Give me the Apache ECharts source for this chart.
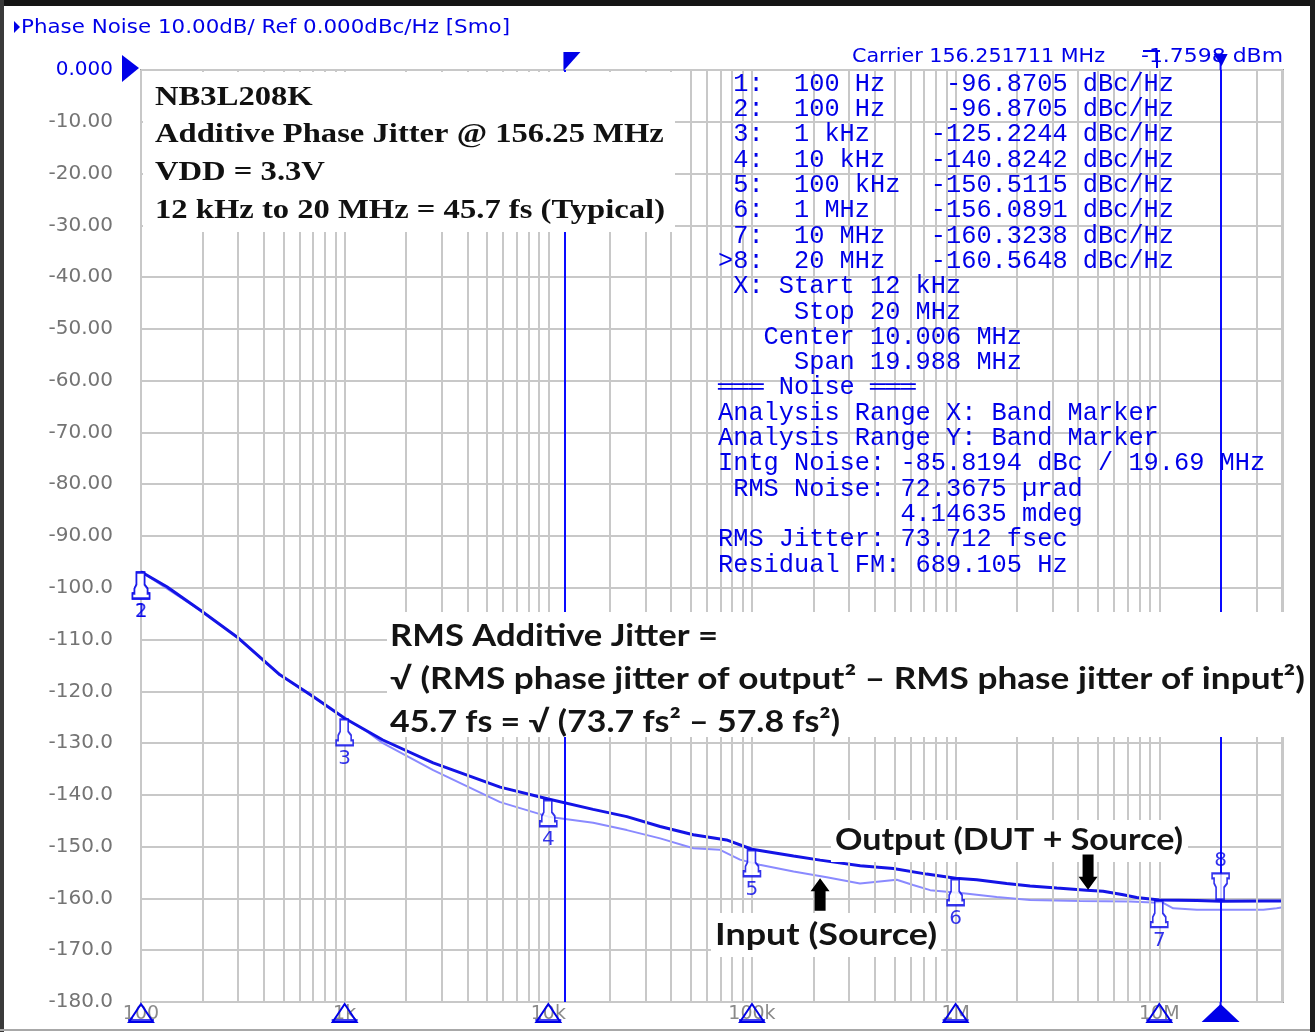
<!DOCTYPE html>
<html><head><meta charset="utf-8">
<script src="https://cdn.jsdelivr.net/npm/echarts@6/dist/echarts.min.js"></script>
<style>html,body{margin:0;padding:0;background:#fff}#c{width:1315px;height:1032px}</style>
</head><body><div id="c"></div>
<script>
// ---------------- data ----------------
const outputFreq = [100, 134, 195, 296, 481, 700, 1000, 1540, 2720, 5800, 10000, 16600, 24300, 35400, 51500, 75000, 100000, 160000, 216000, 340000, 494000, 721000, 1000000, 1270000, 1780000, 2320000, 3140000, 4400000, 5300000, 6650000, 7740000, 10000000, 15300000, 20000000, 32400000, 40500000];
const outputDb = [-96.9, -99.8, -104.3, -109.5, -116.8, -121.0, -125.2, -129.4, -133.8, -138.5, -140.8, -142.8, -144.2, -146.1, -147.7, -148.7, -150.5, -151.8, -152.6, -153.7, -154.2, -155.3, -156.1, -156.4, -157.1, -157.6, -158.0, -158.4, -158.6, -159.3, -159.8, -160.3, -160.4, -160.56, -160.5, -160.5];
const inputFreq = [100, 195, 296, 481, 1000, 1300, 1540, 2720, 5800, 10000, 16600, 24300, 35400, 51500, 69700, 87300, 109000, 160000, 233000, 339000, 514000, 618000, 750000, 1090000, 1590000, 2320000, 4080000, 7180000, 10500000, 11700000, 15300000, 32400000, 37700000, 40500000];
const inputDb = [-96.9, -104.3, -109.5, -116.8, -125.2, -127.9, -130.0, -135.2, -141.4, -144.2, -145.4, -146.8, -148.4, -150.3, -150.6, -152.5, -153.5, -154.8, -155.9, -157.1, -156.4, -157.4, -158.4, -159.0, -159.7, -160.3, -160.5, -160.6, -160.9, -161.9, -162.2, -162.2, -161.9, -161.7];
const markerIds = ['1', '2', '3', '4', '5', '6', '7', '8'];
const markerFreq = [100, 100, 1e3, 1e4, 1e5, 1e6, 1e7, 2e7];
const markerDb = [-96.8705, -96.8705, -125.2244, -140.8242, -150.5115, -156.0891, -160.3238, -160.5648];
const decadeFreq = [100, 1e3, 1e4, 1e5, 1e6, 1e7];
const decadeLabels = ['100', '1k', '10k', '100k', '1M', '10M'];
const bandStart = 12000;
const bandStop = 2e7;
const xMin = 100, xMax = 4.05e7;
const yMin = -180, yMax = 0, yStep = 10;
const headerText = 'Phase Noise 10.00dB/ Ref 0.000dBc/Hz [Smo]';
const carrierText = 'Carrier 156.251711 MHz';
const powerText = '-1.7598 dBm';
const tableLines = [
  ' 1:  100 Hz    -96.8705 dBc/Hz',
  ' 2:  100 Hz    -96.8705 dBc/Hz',
  ' 3:  1 kHz    -125.2244 dBc/Hz',
  ' 4:  10 kHz   -140.8242 dBc/Hz',
  ' 5:  100 kHz  -150.5115 dBc/Hz',
  ' 6:  1 MHz    -156.0891 dBc/Hz',
  ' 7:  10 MHz   -160.3238 dBc/Hz',
  '>8:  20 MHz   -160.5648 dBc/Hz',
  ' X: Start 12 kHz',
  '     Stop 20 MHz',
  '   Center 10.006 MHz',
  '     Span 19.988 MHz',
  '═══ Noise ═══',
  'Analysis Range X: Band Marker',
  'Analysis Range Y: Band Marker',
  'Intg Noise: -85.8194 dBc / 19.69 MHz',
  ' RMS Noise: 72.3675 µrad',
  '            4.14635 mdeg',
  'RMS Jitter: 73.712 fsec',
  'Residual FM: 689.105 Hz'
];
const titleLines = ['NB3L208K', 'Additive Phase Jitter @ 156.25 MHz', 'VDD = 3.3V', '12 kHz to 20 MHz = 45.7 fs (Typical)'];
const formulaLines = ['RMS Additive Jitter =', '√ (RMS phase jitter of output² – RMS phase jitter of input²)', '45.7 fs = √ (73.7 fs² – 57.8 fs²)'];
const outputLabel = 'Output (DUT + Source)';
const inputLabel = 'Input (Source)';
// arrows anchored in data coordinates: [freq, fromDb, toDb]
const inputArrow = [2.16e5, -162.4, -156.1];
const outputArrow = [4.47e6, -151.5, -158.3];

// ---------------- helpers ----------------
const zip = (a, b) => a.map((v, i) => [v, b[i]]);
const minorGrid = [];
for (let d = 2; d <= 7; d++) for (let m = 2; m <= 9; m++) { const f = m * Math.pow(10, d); if (f < xMax) minorGrid.push(f); }
const mctx = document.createElement('canvas').getContext('2d');
function tw(t, font) { mctx.font = font; return mctx.measureText(t).width; }

const BLUE = '#0000e8';
const GRIDC = '#c8c8c8';
const upPin = 'path://M4,0L12,0L12,12L15,16L15,21L17,21L17,26L0,26L0,21L2,21L2,16L4,12Z';
const downPin = 'path://M4,26L12,26L12,14L15,10L15,5L17,5L17,0L0,0L0,5L2,5L2,10L4,14Z';

const chart = echarts.init(document.getElementById('c'), null, {renderer: 'canvas'});
const option = {
  animation: false,
  backgroundColor: '#ffffff',
  grid: {left: 141, top: 70, width: 1142, height: 932, show: true, borderColor: '#9a9a9a', borderWidth: 2, backgroundColor: 'transparent'},
  xAxis: {
    type: 'log', logBase: 10, min: xMin, max: xMax,
    axisLine: {show: false}, axisTick: {show: false},
    axisLabel: {
      color: '#8a8a8a', fontSize: 19, fontFamily: 'DejaVu Sans', margin: 3, showMaxLabel: false,
      formatter: v => { const i = decadeFreq.findIndex(f => Math.abs(f - v) / f < 1e-6); return i >= 0 ? decadeLabels[i] : ''; }
    },
    splitLine: {show: true, lineStyle: {color: GRIDC, width: 2}}
  },
  yAxis: {
    type: 'value', min: yMin, max: yMax, interval: yStep,
    axisLine: {show: false}, axisTick: {show: false},
    axisLabel: {
      margin: 28, fontSize: 20, fontFamily: 'DejaVu Sans',
      color: v => (Number(v) === 0 ? BLUE : '#747474'),
      formatter: v => (v === 0 ? '0.000' : (v > -100 ? v.toFixed(2) : v.toFixed(1)))
    },
    splitLine: {lineStyle: {color: GRIDC, width: 2}}
  },
  series: [
    {type: 'line', name: 'minor grid', data: [], silent: true, z: 1,
      markLine: {silent: true, symbol: 'none', animation: false, label: {show: false},
        lineStyle: {color: GRIDC, width: 2, type: 'solid'}, emphasis: {disabled: true},
        data: minorGrid.map(f => ({xAxis: f}))}},
    {type: 'line', name: 'Input', data: zip(inputFreq, inputDb), showSymbol: false, z: 3,
      lineStyle: {color: '#8a8aff', width: 2}},
    {type: 'line', name: 'Output', data: zip(outputFreq, outputDb), showSymbol: false, z: 4,
      lineStyle: {color: '#1414e6', width: 3}},
    {type: 'line', name: 'band', data: [], z: 5,
      markLine: {silent: true, symbol: 'none', animation: false, label: {show: false},
        lineStyle: {color: '#0a0aff', width: 2, type: 'solid'}, emphasis: {disabled: true},
        data: [{xAxis: bandStart}, {xAxis: bandStop}]}},
    {type: 'scatter', name: 'markers', clip: false, z: 6,
      symbol: upPin, symbolSize: [17, 26], symbolOffset: [0, 14],
      itemStyle: {color: '#ffffff', borderColor: BLUE, borderWidth: 2},
      label: {show: true, position: 'bottom', distance: 2, color: BLUE, fontSize: 20, fontFamily: 'DejaVu Sans',
        formatter: p => markerIds[p.dataIndex]},
      data: zip(markerFreq, markerDb).slice(0, 7)},
    {type: 'scatter', name: 'marker8', clip: false, z: 6,
      symbol: downPin, symbolSize: [17, 26], symbolOffset: [0, -15],
      itemStyle: {color: '#ffffff', borderColor: BLUE, borderWidth: 2},
      label: {show: true, position: 'top', distance: 1, color: BLUE, fontSize: 20, fontFamily: 'DejaVu Sans',
        formatter: () => markerIds[7]},
      data: zip(markerFreq, markerDb).slice(7)}
  ]
};
chart.setOption(option);

// ---------------- decorations / annotations ----------------
const P = (f, db) => chart.convertToPixel({gridIndex: 0}, [f, db]);
const g = [];
function text(t, x, y, font, fill, o = {}) {
  const el = {type: 'text', x, y, z: o.z || 30, silent: true,
    style: {text: t, font, fill, textAlign: o.align || 'left', align: o.align || 'left', textVerticalAlign: 'middle', verticalAlign: 'middle'}};
  if (o.scaleX) el.scaleX = o.scaleX;
  return el;
}
function rect(x, y, w, h, fill, z) { return {type: 'rect', silent: true, z: z || 25, shape: {x, y, width: w, height: h}, style: {fill}}; }
function poly(pts, fill, stroke, lw, z) { return {type: 'polygon', silent: true, z: z || 28, shape: {points: pts}, style: {fill: fill || 'none', stroke: stroke || null, lineWidth: lw || 0}}; }
function line(x1, y1, x2, y2, stroke, lw, z) { return {type: 'line', silent: true, z: z || 28, shape: {x1, y1, x2, y2}, style: {stroke, lineWidth: lw}}; }

// window frame
g.push(rect(0, 0, 1315, 6, '#151515', 40));
g.push(rect(0, 0, 4, 1032, '#3a3a3a', 40));
g.push(rect(1310, 0, 5, 1032, '#1e1e1e', 40));
g.push(rect(0, 1029, 1310, 2, '#a8a8a8', 40));

// header
const hFont = '20px "DejaVu Sans"';
g.push(poly([[14, 21], [20, 27], [14, 33]], BLUE));
g.push(text(headerText, 21, 28, hFont, BLUE, {scaleX: 489 / tw(headerText, hFont)}));
g.push(text(carrierText, 852, 57, hFont, BLUE, {scaleX: 253 / tw(carrierText, hFont)}));
g.push(text(powerText, 1283, 57, hFont, BLUE, {align: 'right', scaleX: 142 / tw(powerText, hFont)}));
g.push(line(1143, 51, 1160, 51, BLUE, 2, 31));
g.push(line(1157, 51, 1157, 68, BLUE, 2, 31));

// reference level triangle
const r0 = P(xMin, 0);
g.push(poly([[r0[0] - 19, r0[1] - 15], [r0[0] - 2, r0[1] - 2], [r0[0] - 19, r0[1] + 12]], BLUE));

// band markers extensions
const bs = P(bandStart, yMax), be = P(bandStop, yMax), beB = P(bandStop, yMin);
g.push(poly([[bs[0] - 1, 52], [bs[0] + 16, 52], [bs[0] - 1, bs[1] + 1]], BLUE));
g.push(line(be[0], 55, be[0], be[1], '#0a0aff', 2, 26));
g.push(poly([[be[0] - 7, 54], [be[0] + 7, 54], [be[0] + 1, 66]], BLUE, null, 0, 31));
g.push(line(be[0], beB[1], be[0], beB[1] + 6, '#0a0aff', 2, 26));
g.push(poly([[be[0], beB[1] + 2], [be[0] + 19, beB[1] + 20], [be[0] - 19, beB[1] + 20]], BLUE));

// decade triangles along x axis
decadeFreq.forEach(f => {
  const p = P(f, yMin);
  g.push(poly([[p[0], p[1] + 2], [p[0] + 12, p[1] + 20], [p[0] - 12, p[1] + 20]], 'none', BLUE, 2));
  g.push(line(p[0] - 13, p[1] + 18, p[0] + 13, p[1] + 18, BLUE, 1.5));
});

// marker table (no background)
const mFont = '25px "Liberation Mono"';
const cw = tw('0', mFont);
const mScale = 15.2 / cw;
tableLines.forEach((t, i) => g.push(text(t, 718, 84 + i * 25.32, mFont, BLUE, {scaleX: mScale, z: 24})));

// title box (white background)
g.push(rect(143, 72, 532, 160, '#ffffff', 25));
const sFont = 'bold 27px "Liberation Serif"';
const sScale = 510 / tw(titleLines[3], sFont);
[98, 135, 173, 211].forEach((y, i) => g.push(text(titleLines[i], 155, y, sFont, '#111111', {scaleX: sScale})));

// formula box
const aFont = 'bold 30px Lato';
const formulaWidths = [328, 915, 450];
g.push(rect(387, 612, 923, 125, '#ffffff', 25));
[636, 679, 722].forEach((y, i) => g.push(text(formulaLines[i], 390, y, aFont, '#141414', {scaleX: formulaWidths[i] / tw(formulaLines[i], aFont)})));

// output / input labels
g.push(rect(831, 820, 357, 42, '#ffffff', 25));
g.push(text(outputLabel, 835, 840, aFont, '#141414', {scaleX: 348 / tw(outputLabel, aFont)}));
g.push(rect(711, 913, 230, 44, '#ffffff', 25));
g.push(text(inputLabel, 715, 935, aFont, '#141414', {scaleX: 222 / tw(inputLabel, aFont)}));

// arrows
function arrow(a) {
  const s = P(a[0], a[1]), e = P(a[0], a[2]);
  const dir = e[1] < s[1] ? -1 : 1; // -1 up
  const x = s[0], hh = 13, hw = 9.5, sw = 5.5;
  const neck = e[1] - dir * hh;
  return poly([[x, e[1]], [x + hw, neck], [x + sw, neck], [x + sw, s[1]], [x - sw, s[1]], [x - sw, neck], [x - hw, neck]], '#000000', null, 0, 32);
}
g.push(arrow(inputArrow));
g.push(arrow(outputArrow));

chart.setOption({graphic: {elements: g}});
</script>
</body></html>
